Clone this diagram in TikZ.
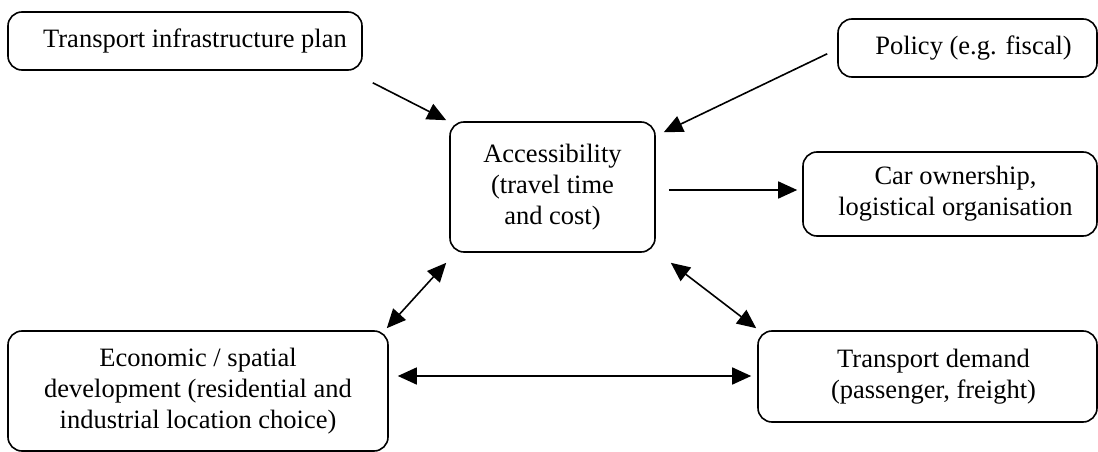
\documentclass[tikz,border=0pt]{standalone}
\usepackage{fontspec}
\setmainfont{Liberation Serif}
\usetikzlibrary{arrows.meta,calc}
% shift a centred line a little to the right inside its box
\newcommand{\nudge}[1]{\hspace*{#1pt}}
\begin{document}
\begin{tikzpicture}[x=1pt,y=-1pt,
  box/.style={draw, line width=1.6pt, rounded corners=14pt, align=center,
    inner sep=0pt, font=\fontsize{26.5}{31}\selectfont},
  tip/.tip={Triangle[length=19pt,width=17pt]},
  arr/.style={line width=1.6pt, -tip},
  darr/.style={line width=1.6pt, tip-tip}]
\useasboundingbox (0,0) rectangle (1098,452);
% boxes
\node[box, minimum width=354pt, minimum height=58pt] (infra) at (185,41) {\nudge{20}Transport infrastructure plan};
\node[box, minimum width=259pt, minimum height=58pt] (policy) at (967.5,48) {\nudge{12}Policy (e.g. fiscal)};
\node[box, minimum width=205pt, minimum height=130pt] (access) at (552.5,187) {Accessibility\\(travel time\\and cost)};
\node[box, minimum width=294pt, minimum height=84pt] (car) at (950,194) {\nudge{11}Car ownership,\\\nudge{11}logistical organisation};
\node[box, minimum width=380pt, minimum height=120pt] (econ) at (198,391) {Economic / spatial\\development (residential and\\industrial location choice)};
\node[box, minimum width=339pt, minimum height=91pt] (demand) at (927.5,376.5) {\nudge{12}Transport demand\\\nudge{12}(passenger, freight)};
% connectors
\draw[arr] ([shift={(10,12)}]infra.south east) -- ([shift={(-3,-1)}]access.north west);
\draw[arr] ([shift={(-10,-24)}]policy.south west) -- ([shift={(8,11)}]access.north east);
\draw[arr] ([shift={(13,3)}]access.east) -- ([shift={(-5,-4)}]car.west);
\draw[darr] ([shift={(-3,10)}]access.south west) -- ([shift={(-2,-2)}]econ.north east);
\draw[darr] ([shift={(15,10)}]access.south east) -- ([shift={(-1,-2)}]demand.north west);
\draw[darr] ([shift={(9,-15)}]econ.east) -- ([shift={(-6,-0.5)}]demand.west);
\end{tikzpicture}
\end{document}
